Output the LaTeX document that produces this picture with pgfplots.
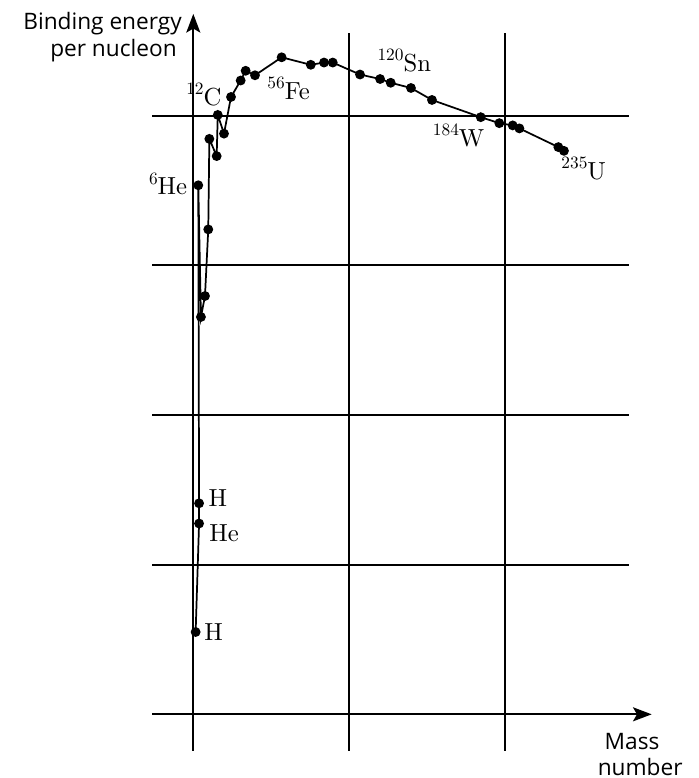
\documentclass[border=0pt]{standalone}
\usepackage{fontspec}
\usepackage{pgfplots}
\pgfplotsset{compat=1.18}
\usetikzlibrary{arrows.meta}
\newfontfamily\labelfont{Open Sans}
\newfontfamily\cmten{lmroman10-regular.otf}
\newcommand\sups[1]{\raisebox{8pt}{\fontsize{13}{13}\selectfont #1}}
\begin{document}
\begin{tikzpicture}
\begin{axis}[
  scale only axis, width=524.25pt, height=583.5pt,
  xmin=-124.07, xmax=324.58, ymin=-0.851, ymax=9.546,
  hide axis, clip=false]
\coordinate (sw) at (rel axis cs:0,0);
\coordinate (ne) at (rel axis cs:1,1);
% grid lines
\foreach \yy in {2,4,6,8} {
  \edef\tmp{\noexpand\draw[line width=1.5pt] (axis cs:-26.3,\yy) -- (axis cs:279.6,\yy);}
  \tmp
}
\draw[line width=1.5pt] (axis cs:100,-0.49) -- (axis cs:100,9.11);
\draw[line width=1.5pt] (axis cs:200,-0.49) -- (axis cs:200,9.11);
% axes
\draw[line width=1.5pt, -{Stealth[length=14pt,width=10.5pt,inset=3pt]}] (axis cs:-26.3,0) -- (axis cs:294.2,0);
\draw[line width=1.5pt, -{Stealth[length=14pt,width=10.5pt,inset=3pt]}] (axis cs:0,-0.49) -- (axis cs:0,9.36);
% data
\addplot[black, line width=1.3pt, mark=*, mark size=3pt] coordinates {
(1.5,1.10) (3.7,2.55) (3.7,2.82) (3.2,7.07) (4.9,5.31) (7.5,5.59) (9.6,6.48)
(10.3,7.69) (15.0,7.46) (15.7,8.01) (19.7,7.76) (24.2,8.25) (30.4,8.47)
(33.6,8.60) (39.6,8.54) (56.7,8.78) (75.4,8.68) (83.9,8.71) (89.5,8.71)
(107.0,8.55) (119.9,8.49) (126.7,8.44) (139.7,8.37) (153.2,8.21)
(184.5,7.98) (196.4,7.90) (205.0,7.87) (209.3,7.83) (234.3,7.58) (237.9,7.53)
};
% labels
\tikzset{el/.style={font=\cmten\fontsize{18.5}{21}\selectfont, inner sep=0pt}}
\node[anchor=base, el] at (axis cs:6.8,8.14) {\sups{12}C};
\node[anchor=base, el] at (axis cs:61.2,8.22) {\sups{56}Fe};
\node[anchor=base, el] at (axis cs:135.4,8.59) {\sups{120}Sn};
\node[anchor=base, el] at (axis cs:170.3,7.59) {\sups{184}W};
\node[anchor=base, el] at (axis cs:250.6,7.15) {\sups{235}U};
\node[anchor=base, el] at (axis cs:-16.2,6.94) {\sups{6}He};
\node[anchor=base west, el] at (axis cs:9.6,2.78) {H};
\node[anchor=base west, el] at (axis cs:10.1,2.31) {He};
\node[anchor=base west, el] at (axis cs:6.9,0.99) {H};
% axis titles
\tikzset{tl/.style={font=\labelfont\fontsize{17}{20}\selectfont, inner sep=0pt}}
\node[anchor=base east, tl] at (axis cs:-7.25,9.145) {Binding energy};
\node[anchor=base east, tl] at (axis cs:-10.5,8.79) {per nucleon};
\node[anchor=base, tl] at (axis cs:281.6,-0.476) {Mass};
\node[anchor=base, tl] at (axis cs:286.8,-0.823) {number};
\end{axis}
\pgfresetboundingbox
\path (sw) rectangle (ne);
\end{tikzpicture}
\end{document}
